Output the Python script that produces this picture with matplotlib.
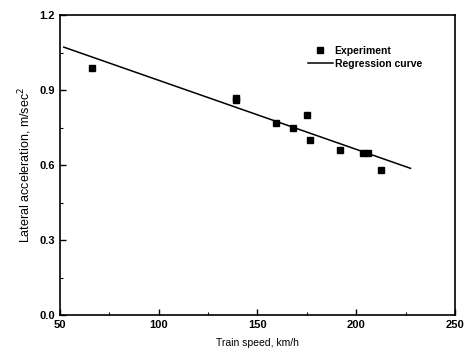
import matplotlib
matplotlib.use('Agg')
import matplotlib.pyplot as plt
from matplotlib.ticker import MultipleLocator

plt.rcParams['font.family'] = ['Liberation Sans', 'DejaVu Sans']

# experiment points
speed = [66.5, 139, 139, 159.5, 168, 175, 176.5, 192, 203.5, 206, 212.5]
accel = [0.99, 0.86, 0.87, 0.77, 0.75, 0.80, 0.70, 0.66, 0.65, 0.65, 0.58]

# regression line end points
reg_speed = [52, 227.5]
reg_accel = [1.072, 0.587]

fig = plt.figure(figsize=(4.71, 3.52), dpi=100)
ax = fig.add_axes([0.127, 0.105, 0.839, 0.852])

ax.plot(speed, accel, 's', color='black', markersize=4, label='Experiment')
ax.plot(reg_speed, reg_accel, '-', color='black', linewidth=1.1, label='Regression curve')

ax.set_xlim(50, 250)
ax.set_ylim(0, 1.2)
ax.xaxis.set_major_locator(MultipleLocator(50))
ax.xaxis.set_minor_locator(MultipleLocator(25))
ax.yaxis.set_major_locator(MultipleLocator(0.3))
ax.yaxis.set_minor_locator(MultipleLocator(0.15))
ax.yaxis.set_major_formatter(matplotlib.ticker.FormatStrFormatter('%.1f'))
ax.tick_params(which='both', direction='in', top=False, right=False)
ax.tick_params(which='major', length=4, width=1, labelsize=8)
ax.tick_params(which='minor', length=2, width=0.8)
for lab in ax.get_xticklabels() + ax.get_yticklabels():
    lab.set_fontweight('bold')
for s in ax.spines.values():
    s.set_linewidth(1.2)

ax.set_xlabel('Train speed, km/h', fontsize=7.5, labelpad=6)
ax.set_ylabel('Lateral acceleration, m/sec$^2$', fontsize=9, labelpad=4)

leg = ax.legend(loc='upper right', bbox_to_anchor=(0.94, 0.93), frameon=False,
                fontsize=7.5, handlelength=2.4, handletextpad=0.2, labelspacing=0.3)
for t in leg.get_texts():
    t.set_fontweight('semibold')

fig.savefig('out.png', dpi=100)
